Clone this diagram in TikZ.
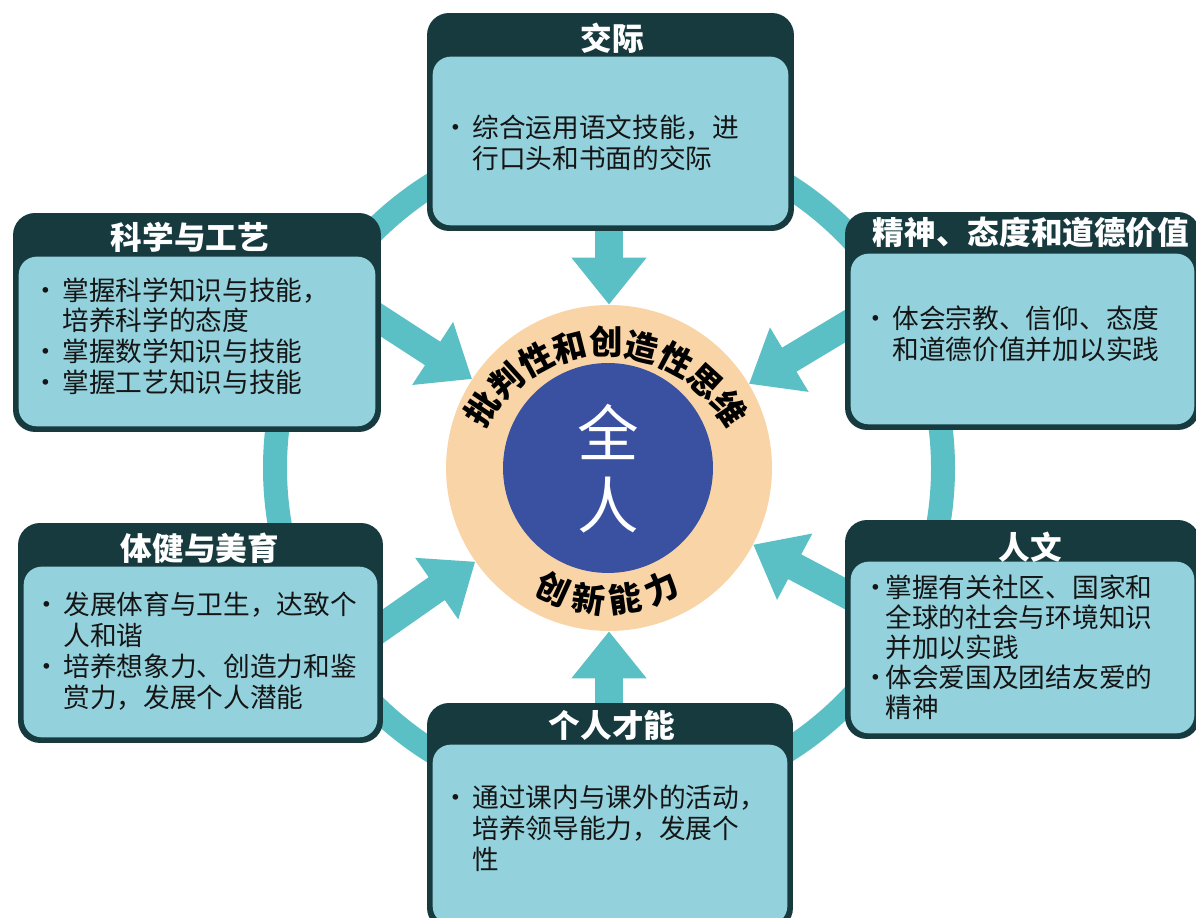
\documentclass[tikz,border=0pt]{standalone}
\usepackage{fontspec}
\newfontfamily\cjk{Noto Sans CJK SC}
\usetikzlibrary{arrows.meta,calc,decorations.text}
\pgfdeclarelayer{background}
\pgfsetlayers{background,main}
\definecolor{tealc}{HTML}{5BC0C5}
\definecolor{peach}{HTML}{F9D4A6}
\definecolor{royal}{HTML}{3A51A2}
\definecolor{boxdark}{HTML}{163A3E}
\definecolor{boxlight}{HTML}{93D2DD}
\definecolor{ink}{HTML}{151515}
\newcommand{\bul}[1]{\makebox[#1][l]{•}}
\newcommand{\ind}[1]{\hspace*{#1}}
\begin{document}
\begin{tikzpicture}[x=0.02cm,y=0.02cm,
  outerbox/.style={rectangle, fill=boxdark, rounded corners=0.44cm, inner sep=0pt},
  innerbox/.style={fill=boxlight, rounded corners=0.36cm},
  ttl/.style={text=white, font=\cjk\bfseries\fontsize{18pt}{20pt}\selectfont, inner sep=0pt},
  bodytext/.style={text=ink, font=\cjk\fontsize{15.2pt}{17.6pt}\selectfont, align=left, anchor=north west, inner sep=0pt},
  bigarrow/.style={draw=tealc, line width=0.56cm, -{Triangle[width=1.44cm,length=0.94cm]}},
  ringline/.style={draw=tealc, line width=0.48cm}
]
\useasboundingbox (0,0) rectangle (1196,918);
\clip (0,0) rectangle (1196,918);

% centre
\node[circle, fill=peach, minimum size=6.52cm, inner sep=0pt] (ring) at (609,450) {};
\node[circle, fill=royal, minimum size=4.2cm, inner sep=0pt] (core) at (608,450) {};
\node[text=white, font=\cjk\fontsize{35pt}{36pt}\selectfont, inner sep=0pt] (quan) at (608,486) {全};
\node[text=white, font=\cjk\fontsize{35pt}{36pt}\selectfont, inner sep=0pt] (ren) at (608,413) {人};
\coordinate (arcc) at (606,427);
\path[decorate, decoration={text along path, text align=center,
  text={|\cjk\bfseries\fontsize{19pt}{19pt}\selectfont|批判性和创造性思维}}]
  ($(arcc)+(165:136)$) arc[start angle=165, end angle=15, radius=136];
\coordinate (arcd) at (607,449);
\path[decorate, decoration={text along path, text align=center,
  text={|\cjk\bfseries\fontsize{19pt}{19pt}\selectfont|创 新 能 力}}]
  ($(arcd)+(225:144)$) arc[start angle=225, end angle=315, radius=144];

% boxes
\node[outerbox, minimum width=7.34cm, minimum height=4.36cm] (jj) at (610.5,796) {};
\fill[innerbox] ($(jj.south west)+(6,6)$) rectangle ($(jj.north east)+(-6,-44)$);
\node[ttl] (jjt) at (612,880) {交际};
\node[bodytext] (jjb) at (442,803) {\bul{0.6cm}综合运用语文技能，进\\\ind{0.6cm}行口头和书面的交际};

\node[outerbox, minimum width=7.36cm, minimum height=4.38cm] (kx) at (197,595.5) {};
\fill[innerbox] ($(kx.south west)+(6,6)$) rectangle ($(kx.north east)+(-6,-44)$);
\node[ttl] (kxt) at (190,681) {科学与工艺};
\node[bodytext] (kxb) at (32,641) {\bul{0.6cm}掌握科学知识与技能，\\\ind{0.6cm}培养科学的态度\\\bul{0.6cm}掌握数学知识与技能\\\bul{0.6cm}掌握工艺知识与技能};

\node[outerbox, minimum width=7.1cm, minimum height=4.36cm] (js) at (1022.5,597) {};
\fill[innerbox] ($(js.south west)+(6,6)$) rectangle ($(js.north east)+(-6,-42)$);
\node[ttl] (jst) at (1031,686) {精神、态度和道德价值};
\node[bodytext] (jsb) at (862,613) {\bul{0.6cm}体会宗教、信仰、态度\\\ind{0.6cm}和道德价值并加以实践};

\node[outerbox, minimum width=7.3cm, minimum height=4.4cm] (tj) at (200.5,285) {};
\fill[innerbox] ($(tj.south west)+(6,6)$) rectangle ($(tj.north east)+(-6,-44)$);
\node[ttl] (tjt) at (200,370) {体健与美育};
\node[bodytext] (tjb) at (33,326) {\bul{0.6cm}发展体育与卫生，达致个\\\ind{0.6cm}人和谐\\\bul{0.6cm}培养想象力、创造力和鉴\\\ind{0.6cm}赏力，发展个人潜能};

\node[outerbox, minimum width=7.1cm, minimum height=4.38cm] (rw) at (1022.5,288.5) {};
\fill[innerbox] ($(rw.south west)+(6,6)$) rectangle ($(rw.north east)+(-6,-42)$);
\node[ttl] (rwt) at (1030,371) {人文};
\node[bodytext, font=\cjk\fontsize{15.2pt}{17pt}\selectfont] (rwb) at (862,343) {\bul{0.46cm}掌握有关社区、国家和\\\ind{0.46cm}全球的社会与环境知识\\\ind{0.46cm}并加以实践\\\bul{0.46cm}体会爱国及团结友爱的\\\ind{0.46cm}精神};

\node[outerbox, minimum width=7.32cm, minimum height=4.54cm] (gr) at (610,101.5) {};
\fill[innerbox] ($(gr.south west)+(6,6)$) rectangle ($(gr.north east)+(-6,-42)$);
\node[ttl] (grt) at (612,193) {个人才能};
\node[bodytext] (grb) at (442,133) {\bul{0.6cm}通过课内与课外的活动，\\\ind{0.6cm}培养领导能力，发展个\\\ind{0.6cm}性};

% background: ring and arrows
\begin{pgfonlayer}{background}
\fill[white] (0,0) rectangle (1196,918);
\draw[ringline] (ring.center) circle[radius=334];
\draw[bigarrow] ($(ring.center)!1.8!(ring.90)$) -- (ring.90);
\draw[bigarrow] ($(ring.center)!1.8!(ring.147)$) -- (ring.147);
\draw[bigarrow] ($(ring.center)!1.8!(ring.31)$) -- (ring.31);
\draw[bigarrow] ($(ring.center)!1.8!(ring.215)$) -- (ring.215);
\draw[bigarrow] ($(ring.center)!1.8!(ring.332)$) -- (ring.332);
\draw[bigarrow] ($(ring.center)!1.8!(ring.270)$) -- (ring.270);
\end{pgfonlayer}
\end{tikzpicture}
\end{document}
